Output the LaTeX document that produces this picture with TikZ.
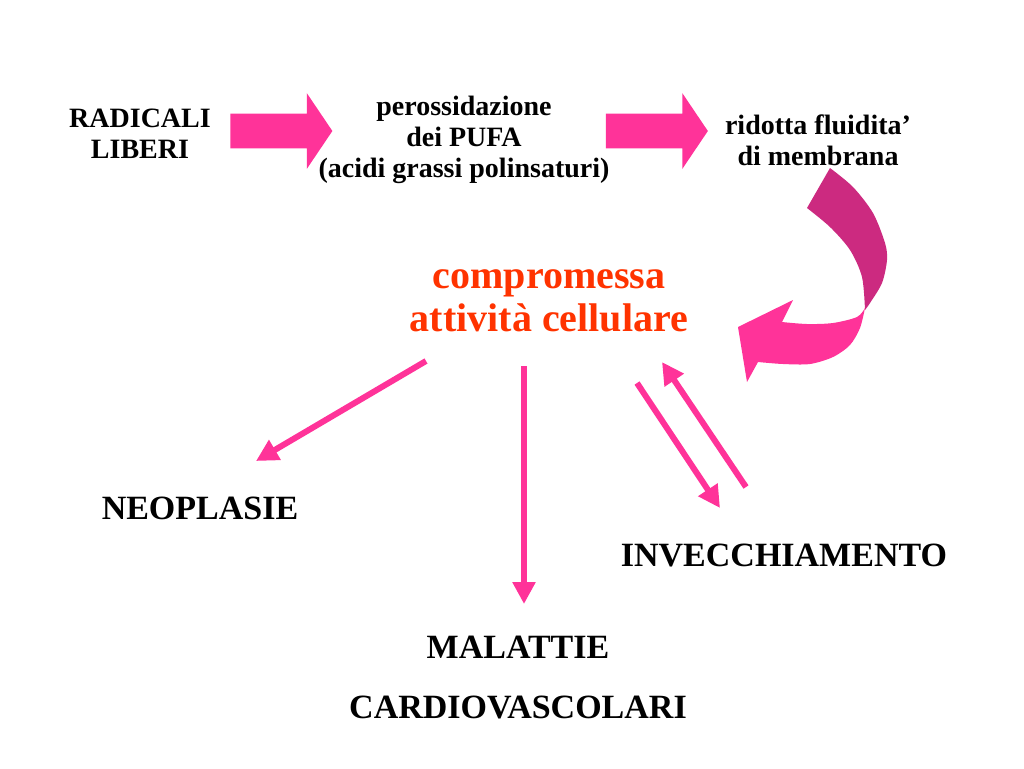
\documentclass[tikz,border=0pt]{standalone}
\usepackage{fontspec}
\setmainfont{Liberation Serif}
\usetikzlibrary{positioning, arrows.meta, shapes.arrows}
\definecolor{rosa}{RGB}{255,51,153}
\definecolor{rosascuro}{RGB}{204,42,128}
\definecolor{arancio}{RGB}{255,51,0}

\begin{document}
\begin{tikzpicture}[x=0.5pt, y=-0.5pt,
    >={Triangle[length=11pt, width=11pt]},
    testo/.style={align=center, inner sep=0pt,
        font=\bfseries\fontsize{14}{15.5}\selectfont},
    grande/.style={align=center, inner sep=0pt,
        font=\bfseries\fontsize{17}{20}\selectfont},
    freccione/.style={single arrow, fill=rosa,
        inner xsep=0pt, inner ysep=8.5pt,
        single arrow head extend=10.25pt,
        single arrow tip angle=112,
        minimum height=51pt},
    freccia/.style={->, rosa, line width=3pt}
]
    \useasboundingbox (0,0) rectangle (1024,768);

    \node [testo] (radicali) at (140,134) {RADICALI\\LIBERI};

    \node [testo] (pufa) at (464,140) {
        perossidazione\\
        dei PUFA\\
        (acidi grassi polinsaturi)
    };

    \node [testo] (fluidita) at (818,140) {
        ridotta fluidita’\\
        di membrana
    };

    \node [align=center, inner sep=0pt, text=arancio,
        font=\bfseries\fontsize{20}{21.5}\selectfont
    ] (attivita) at (549,301) {
        compromessa\\
        attività cellulare
    };

    \node [grande] (neoplasie) at (200,508) {NEOPLASIE};

    \node [grande] (malattie) at (518,678) {
        MALATTIE\\[10pt]
        CARDIOVASCOLARI
    };

    \node [grande] (invecchiamento) at (784,555) {INVECCHIAMENTO};

    % frecce grosse %
    \node [freccione] (freccia1) at (275.5,131) {};
    \node [freccione] (freccia2) at (651,131) {};

    % freccia curva %
    \fill [rosascuro] plot [smooth] coordinates {
        (830,168) (853,187) (873,213) (885,243) (887,260) (882,283) (870,303) (865,310)}
        -- plot [smooth] coordinates {
        (865,310) (862,277) (850,250) (830,227) (807,208)} -- cycle;
    \fill [rosa] plot [smooth] coordinates {
        (865,308) (857,317) (833,323) (807,324) (782,322)}
        -- (793,300) -- (738,327) -- (747,382) -- (758,362)
        -- plot [smooth] coordinates {
        (758,362) (783,364) (810,364) (833,357) (850,345) (860,328) (865,308)} -- cycle;

    % frecce sottili %
    \draw [freccia] ([shift={(-123,60)}]attivita.center) -- ([shift={(56,-47)}]neoplasie.center);
    \draw [freccia] ([shift={(-25,65)}]attivita.center) -- ([shift={(6,-74)}]malattie.center);
    \draw [freccia] ([shift={(88,82)}]attivita.center) -- ([shift={(-64,-47)}]invecchiamento.center);
    \draw [freccia] ([shift={(-38,-68)}]invecchiamento.center) -- ([shift={(113,61)}]attivita.center);
\end{tikzpicture}
\end{document}
